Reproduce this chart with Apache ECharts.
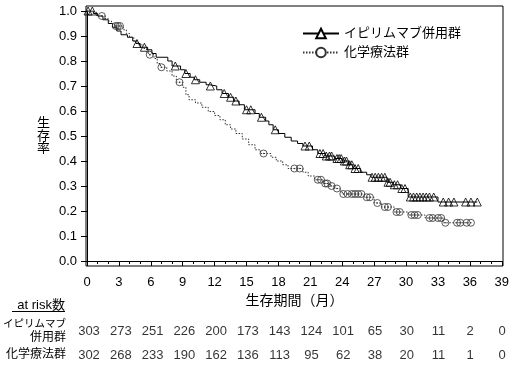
<!DOCTYPE html>
<html>
<head>
<meta charset="utf-8">
<script src="https://cdn.jsdelivr.net/npm/echarts@6/dist/echarts.min.js"></script>
<style>html,body{margin:0;padding:0;background:#fff;}#c{width:512px;height:370px;}</style>
</head>
<body>
<div id="c"></div>
<script>
// ---- data ----
const seriesNames = ['イピリムマブ併用群', '化学療法群'];
const riskTitle = 'at risk数';
const riskRowLabels = ['イピリムマブ', '併用群', '化学療法群'];
const xTicks = [0, 3, 6, 9, 12, 15, 18, 21, 24, 27, 30, 33, 36, 39];
const riskIpi = [303, 273, 251, 226, 200, 173, 143, 124, 101, 65, 30, 11, 2, 0];
const riskChemo = [302, 268, 233, 190, 162, 136, 113, 95, 62, 38, 20, 11, 1, 0];

// Kaplan-Meier step points (time in months, survival)
const ipiT = [0, 0.6, 1.0, 1.5, 2.0, 2.4, 2.8, 3.2, 3.8, 4.3, 4.6, 5.0, 5.7, 6.1, 6.5, 7.6, 8.0, 8.8, 9.2, 9.7, 10.1, 10.6, 11.2, 11.5, 12.2, 12.7, 13.3, 13.8, 14.3, 14.8, 15.8, 16.2, 16.8, 17.1, 17.5, 18.0, 18.6, 19.2, 19.8, 20.3, 21.2, 21.7, 22.4, 23.3, 24.0, 24.6, 25.0, 25.7, 26.3, 26.7, 28.2, 28.8, 29.5, 30.2, 33.0, 36.7];
const ipiS = [1.0, 0.99, 0.98, 0.965, 0.95, 0.935, 0.92, 0.905, 0.895, 0.88, 0.87, 0.855, 0.845, 0.83, 0.815, 0.80, 0.78, 0.765, 0.75, 0.735, 0.725, 0.715, 0.705, 0.70, 0.685, 0.67, 0.655, 0.64, 0.625, 0.605, 0.59, 0.575, 0.56, 0.545, 0.525, 0.51, 0.495, 0.48, 0.47, 0.46, 0.445, 0.43, 0.42, 0.41, 0.40, 0.385, 0.37, 0.355, 0.345, 0.335, 0.315, 0.305, 0.29, 0.256, 0.236, 0.236];
const ipiCensT = [0.1, 0.5, 4.7, 5.4, 8.3, 9.3, 10.2, 11.6, 12.9, 13.5, 14.0, 15.0, 15.4, 16.4, 17.7, 20.5, 20.9, 21.9, 22.2, 22.5, 22.8, 23.0, 23.5, 23.7, 23.9, 24.2, 24.4, 24.7, 24.9, 25.2, 25.5, 26.8, 27.1, 27.4, 27.7, 28.0, 28.3, 28.5, 28.9, 29.2, 29.6, 29.9, 30.4, 30.7, 31.0, 31.3, 31.6, 31.9, 32.2, 32.6, 33.5, 34.0, 34.5, 35.6, 36.1, 36.7];
const ipiCensS = [1.0, 1.0, 0.87, 0.855, 0.78, 0.75, 0.725, 0.70, 0.67, 0.655, 0.64, 0.605, 0.605, 0.575, 0.525, 0.46, 0.46, 0.43, 0.43, 0.42, 0.42, 0.42, 0.41, 0.41, 0.41, 0.40, 0.40, 0.385, 0.385, 0.37, 0.37, 0.335, 0.335, 0.335, 0.335, 0.335, 0.315, 0.315, 0.305, 0.305, 0.29, 0.29, 0.256, 0.256, 0.256, 0.256, 0.256, 0.256, 0.256, 0.256, 0.236, 0.236, 0.236, 0.236, 0.236, 0.236];

const chemoT = [0, 0.4, 0.9, 1.7, 2.0, 2.3, 2.6, 3.4, 3.7, 4.0, 4.4, 4.8, 5.2, 5.6, 5.8, 6.3, 6.6, 6.9, 7.5, 8.0, 8.4, 9.0, 9.3, 9.6, 10.2, 10.8, 11.4, 12.0, 12.5, 13.0, 13.5, 14.0, 14.6, 15.2, 15.8, 16.3, 17.3, 17.8, 18.4, 18.9, 20.3, 20.8, 21.4, 22.2, 22.8, 23.3, 23.8, 24.0, 26.1, 27.0, 27.7, 28.9, 30.2, 31.8, 33.5, 36.1];
const chemoS = [1.0, 0.995, 0.98, 0.97, 0.96, 0.95, 0.94, 0.925, 0.91, 0.895, 0.88, 0.865, 0.85, 0.835, 0.825, 0.81, 0.79, 0.775, 0.76, 0.74, 0.715, 0.695, 0.665, 0.645, 0.632, 0.615, 0.598, 0.582, 0.565, 0.545, 0.528, 0.51, 0.488, 0.465, 0.445, 0.43, 0.415, 0.40, 0.385, 0.37, 0.355, 0.34, 0.325, 0.31, 0.30, 0.29, 0.28, 0.268, 0.255, 0.232, 0.216, 0.196, 0.184, 0.172, 0.153, 0.153];
const chemoCensT = [1.4, 2.7, 2.9, 3.1, 5.9, 7.0, 8.7, 16.6, 19.5, 20.0, 21.7, 22.0, 22.4, 22.6, 23.0, 23.5, 24.1, 24.5, 24.9, 25.2, 25.5, 25.8, 26.3, 26.6, 27.3, 28.0, 28.3, 29.1, 29.4, 30.5, 30.8, 31.1, 32.2, 32.5, 33.0, 33.3, 33.7, 34.8, 35.1, 35.7, 36.1];
const chemoCensS = [0.98, 0.94, 0.94, 0.94, 0.825, 0.775, 0.715, 0.43, 0.37, 0.37, 0.325, 0.325, 0.31, 0.31, 0.30, 0.29, 0.268, 0.268, 0.268, 0.268, 0.268, 0.268, 0.255, 0.255, 0.232, 0.216, 0.216, 0.196, 0.196, 0.184, 0.184, 0.184, 0.172, 0.172, 0.172, 0.172, 0.153, 0.153, 0.153, 0.153, 0.153];

// ---- chart ----
const FONT = "'Liberation Sans', 'Noto Sans CJK JP', sans-serif";
const zip = (a, b) => a.map((v, i) => [v, b[i]]);
const chart = echarts.init(document.getElementById('c'), null, {renderer: 'canvas'});

const riskData = [];
xTicks.forEach((t, i) => { riskData.push([t, 0, riskIpi[i]]); riskData.push([t, 1, riskChemo[i]]); });

const option = {
  animation: false,
  backgroundColor: '#fff',
  textStyle: {fontFamily: FONT, color: '#000'},
  grid: [
    {left: 87, right: 10, top: 11, height: 250, containLabel: false},
    {left: 86, right: 9, top: 6, height: 260, show: true, borderColor: '#000', borderWidth: 1, backgroundColor: 'transparent'},
    {left: 87, right: 10, top: 319, height: 48}
  ],
  legend: {
    data: seriesNames,
    orient: 'vertical',
    left: 297, top: 22,
    itemWidth: 36, itemHeight: 12, itemGap: 6,
    textStyle: {fontFamily: FONT, fontSize: 13, color: '#000'}
  },
  xAxis: [
    {
      type: 'value', gridIndex: 0, min: 0, max: 39, interval: 3, offset: 5,
      axisLine: {show: true, lineStyle: {color: '#000', width: 1}},
      axisTick: {show: true, length: 5, lineStyle: {color: '#000'}},
      minorTick: {show: true, splitNumber: 3, length: 3, lineStyle: {color: '#000'}},
      splitLine: {show: false},
      axisLabel: {fontSize: 13, color: '#000', margin: 10, fontFamily: FONT},
      name: '生存期間（月）', nameLocation: 'middle', nameGap: 25,
      nameTextStyle: {fontSize: 14, color: '#000', fontFamily: FONT}
    },
    {type: 'value', gridIndex: 1, show: false, min: 0, max: 1},
    {type: 'value', gridIndex: 2, show: false, min: 0, max: 39}
  ],
  yAxis: [
    {
      type: 'value', gridIndex: 0, min: 0, max: 1, interval: 0.1, offset: 1,
      axisLine: {show: true, lineStyle: {color: '#000', width: 1}},
      axisTick: {show: true, length: 6, lineStyle: {color: '#000'}},
      splitLine: {show: false},
      axisLabel: {fontSize: 13, color: '#000', margin: 9, fontFamily: FONT, formatter: v => v.toFixed(1)},
      name: '生\n存\n率', nameLocation: 'middle', nameGap: 36, nameRotate: 0,
      nameTextStyle: {fontSize: 13, lineHeight: 12.5, color: '#000', fontFamily: FONT}
    },
    {type: 'value', gridIndex: 1, show: false, min: 0, max: 1},
    {
      type: 'category', gridIndex: 2, inverse: true,
      data: ['{k|' + riskRowLabels[0] + '}\n{n|' + riskRowLabels[1] + '}', '{n|' + riskRowLabels[2] + '}'],
      axisLine: {show: false}, axisTick: {show: false}, splitLine: {show: false},
      axisLabel: {
        color: '#000', margin: 23, align: 'right', fontFamily: FONT,
        rich: {
          k: {fontSize: 10.5, lineHeight: 13, align: 'right', fontFamily: FONT, color: '#000'},
          n: {fontSize: 12, lineHeight: 13, align: 'right', fontFamily: FONT, color: '#000'}
        }
      }
    }
  ],
  graphic: [
    {type: 'text', right: 512 - 65, top: 299, z: 100, style: {text: riskTitle, font: '13px ' + FONT, fill: '#000'}},
    {type: 'rect', left: 12, top: 311, z: 100, shape: {width: 53, height: 1}, style: {fill: '#000'}}
  ],
  series: [
    {
      name: seriesNames[0], type: 'line', step: 'end', xAxisIndex: 0, yAxisIndex: 0,
      data: zip(ipiT, ipiS), showSymbol: false, symbol: 'triangle', symbolSize: 11,
      itemStyle: {color: '#fff', borderColor: '#000', borderWidth: 1},
      lineStyle: {color: '#000', width: 1, type: 'solid'}, z: 3, silent: true
    },
    {
      name: seriesNames[1], type: 'line', step: 'end', xAxisIndex: 0, yAxisIndex: 0,
      data: zip(chemoT, chemoS), showSymbol: false, symbol: 'circle', symbolSize: 11,
      itemStyle: {color: '#fff', borderColor: '#333', borderWidth: 1},
      lineStyle: {color: '#333', width: 1, type: [1.5, 1.5]}, z: 3, silent: true
    },
    {
      type: 'scatter', xAxisIndex: 0, yAxisIndex: 0, data: zip(ipiCensT, ipiCensS),
      symbol: 'triangle', symbolSize: 8,
      itemStyle: {color: 'rgba(255,255,255,0)', borderColor: '#000', borderWidth: 1}, z: 4, silent: true
    },
    {
      type: 'scatter', xAxisIndex: 0, yAxisIndex: 0, data: zip(chemoCensT, chemoCensS),
      symbol: 'circle', symbolSize: 7,
      itemStyle: {color: 'rgba(255,255,255,0)', borderColor: '#333', borderWidth: 1}, z: 4, silent: true
    },
    {
      type: 'scatter', xAxisIndex: 0, yAxisIndex: 0, data: zip(chemoCensT, chemoCensS),
      symbol: 'circle', symbolSize: 1.5,
      itemStyle: {color: '#333'}, z: 5, silent: true
    },
    {
      type: 'scatter', xAxisIndex: 2, yAxisIndex: 2, data: riskData, symbolSize: 0,
      encode: {x: 0, y: 1},
      label: {show: true, position: 'inside', formatter: p => String(p.value[2]), fontSize: 13, color: '#000', fontFamily: FONT},
      silent: true
    }
  ]
};
chart.setOption(option);
</script>
</body>
</html>
